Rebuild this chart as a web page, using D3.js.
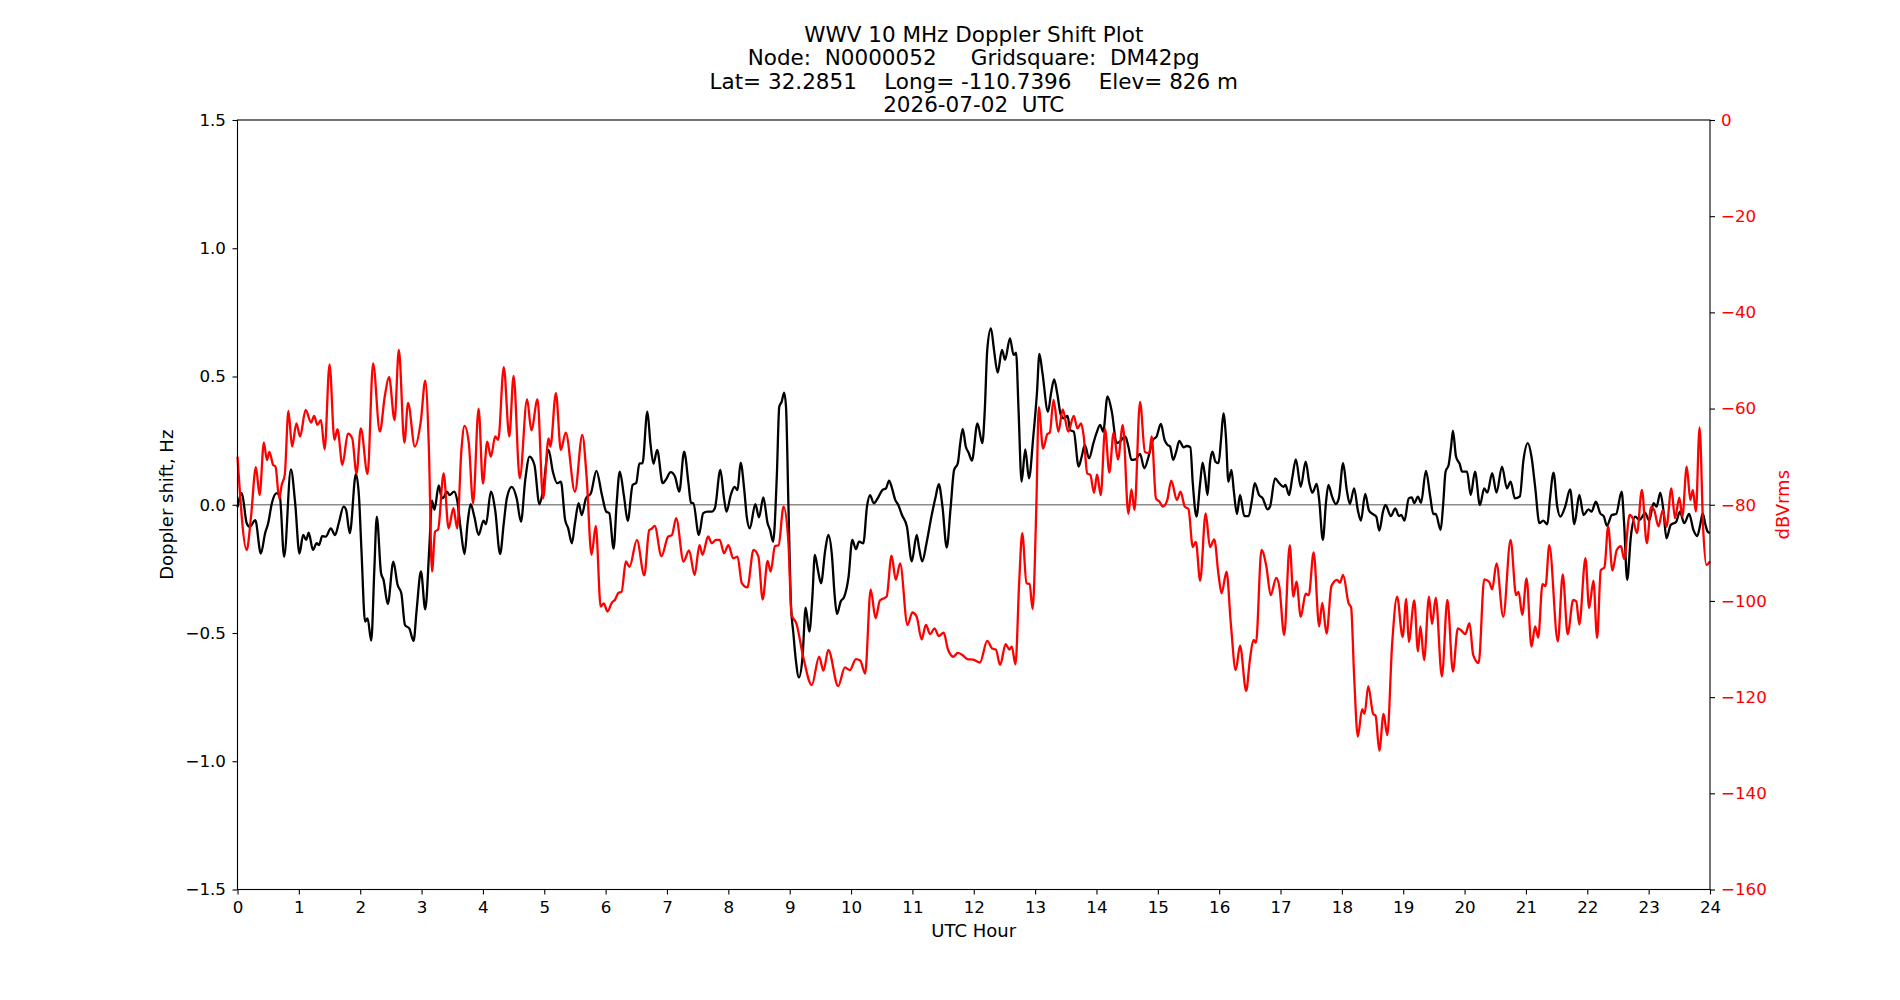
<!DOCTYPE html>
<html>
<head>
<meta charset="utf-8">
<script src="https://cdn.jsdelivr.net/npm/d3@7"></script>
<style>
  body { margin: 0; background: #fff; }
  svg text { font-family: "DejaVu Sans", sans-serif; }
</style>
</head>
<body>
<div id="chart"></div>
<script>
// WWV Doppler shift plot

// Title lines
var titleLines = [
  'WWV 10 MHz Doppler Shift Plot',
  'Node:  N0000052     Gridsquare:  DM42pg',
  'Lat= 32.2851    Long= -110.7396    Elev= 826 m',
  '2026-07-02  UTC'
]

// x ticks (UTC hour)
var hourTicks = d3.range(0, 25)
// left axis ticks (Hz)
var shiftTicks = [-1.5, -1.0, -0.5, 0.0, 0.5, 1.0, 1.5]
// right axis ticks (dBVrms)
var dbTicks = [0, -20, -40, -60, -80, -100, -120, -140, -160]

// Doppler shift series (black)
var dopplerHours = [0.00, 0.07, 0.15, 0.20, 0.29, 0.38, 0.45, 0.50, 0.56, 0.64, 0.69, 0.76, 0.87, 0.94, 1.01, 1.07, 1.12, 1.16, 1.23, 1.29,
  1.33, 1.38, 1.44, 1.52, 1.59, 1.65, 1.73, 1.77, 1.83, 1.93, 1.98, 2.02, 2.08, 2.12, 2.18, 2.23, 2.27, 2.34, 2.38, 2.45,
  2.54, 2.61, 2.67, 2.73, 2.80, 2.87, 2.92, 2.99, 3.06, 3.13, 3.17, 3.21, 3.28, 3.33, 3.37, 3.41, 3.46, 3.53, 3.58, 3.64,
  3.70, 3.75, 3.80, 3.86, 3.93, 4.01, 4.05, 4.13, 4.20, 4.28, 4.34, 4.39, 4.47, 4.55, 4.62, 4.69, 4.76, 4.84, 4.92, 4.98,
  5.07, 5.14, 5.21, 5.27, 5.34, 5.39, 5.45, 5.50, 5.56, 5.61, 5.68, 5.76, 5.85, 5.94, 6.01, 6.06, 6.13, 6.18, 6.23, 6.30,
  6.36, 6.44, 6.50, 6.55, 6.60, 6.68, 6.73, 6.78, 6.84, 6.93, 6.98, 7.06, 7.13, 7.20, 7.28, 7.35, 7.39, 7.43, 7.52, 7.59,
  7.66, 7.73, 7.78, 7.87, 7.93, 7.97, 8.04, 8.10, 8.15, 8.20, 8.26, 8.30, 8.35, 8.44, 8.50, 8.57, 8.64, 8.68, 8.73, 8.79,
  8.83, 8.87, 8.91, 8.94, 8.98, 9.02, 9.06, 9.10, 9.15, 9.21, 9.26, 9.32, 9.37, 9.41, 9.46, 9.51, 9.58, 9.63, 9.69, 9.73,
  9.77, 9.83, 9.89, 9.96, 10.02, 10.08, 10.13, 10.20, 10.26, 10.31, 10.37, 10.45, 10.51, 10.57, 10.62, 10.66, 10.72, 10.77, 10.83, 10.91,
  10.99, 11.07, 11.11, 11.16, 11.23, 11.31, 11.38, 11.43, 11.49, 11.56, 11.62, 11.68, 11.74, 11.78, 11.82, 11.87, 11.92, 11.97, 12.06, 12.14,
  12.18, 12.22, 12.28, 12.33, 12.39, 12.46, 12.51, 12.59, 12.65, 12.69, 12.73, 12.78, 12.84, 12.90, 12.97, 13.03, 13.07, 13.12, 13.21, 13.26,
  13.31, 13.36, 13.42, 13.47, 13.53, 13.57, 13.63, 13.71, 13.76, 13.81, 13.88, 13.95, 14.00, 14.06, 14.11, 14.18, 14.25, 14.33, 14.38, 14.47,
  14.52, 14.57, 14.64, 14.71, 14.78, 14.85, 14.92, 14.98, 15.05, 15.11, 15.16, 15.20, 15.25, 15.30, 15.35, 15.42, 15.47, 15.53, 15.57, 15.63,
  15.69, 15.73, 15.77, 15.81, 15.85, 15.89, 15.94, 15.99, 16.03, 16.07, 16.11, 16.15, 16.20, 16.24, 16.29, 16.34, 16.41, 16.48, 16.53, 16.58,
  16.65, 16.71, 16.79, 16.83, 16.91, 16.98, 17.05, 17.08, 17.14, 17.19, 17.25, 17.33, 17.41, 17.47, 17.52, 17.59, 17.63, 17.69, 17.74, 17.78,
  17.84, 17.90, 17.95, 18.02, 18.08, 18.13, 18.20, 18.26, 18.31, 18.38, 18.44, 18.50, 18.56, 18.61, 18.67, 18.71, 18.80, 18.87, 18.93, 18.97,
  19.02, 19.09, 19.14, 19.18, 19.24, 19.29, 19.37, 19.44, 19.49, 19.53, 19.61, 19.65, 19.69, 19.74, 19.78, 19.81, 19.86, 19.92, 19.96, 20.04,
  20.10, 20.17, 20.25, 20.32, 20.37, 20.45, 20.52, 20.61, 20.69, 20.75, 20.82, 20.90, 20.96, 21.03, 21.09, 21.15, 21.22, 21.28, 21.35, 21.39,
  21.45, 21.51, 21.56, 21.64, 21.72, 21.79, 21.87, 21.94, 22.02, 22.07, 22.14, 22.21, 22.27, 22.32, 22.40, 22.47, 22.56, 22.60, 22.65, 22.71,
  22.78, 22.85, 22.89, 22.94, 23.01, 23.08, 23.13, 23.19, 23.24, 23.29, 23.36, 23.45, 23.51, 23.58, 23.66, 23.73, 23.79, 23.84, 23.88, 23.93,
  23.96, 24.00]
var dopplerShift = [-0.010, 0.045, -0.072, -0.086, -0.060, -0.190, -0.111, -0.072, 0.006, 0.045, 0.032, -0.203, 0.138, 0.006, -0.190, -0.118, -0.137, -0.109, -0.176, -0.150,
  -0.157, -0.122, -0.124, -0.092, -0.118, -0.072, -0.007, -0.020, -0.111, 0.120, 0.032, -0.176, -0.456, -0.443, -0.530, -0.254, -0.046, -0.267, -0.293, -0.387,
  -0.222, -0.313, -0.345, -0.469, -0.482, -0.531, -0.410, -0.260, -0.408, -0.150, 0.016, -0.020, 0.075, 0.025, 0.032, 0.051, 0.038, 0.051, 0.018, -0.099,
  -0.192, -0.072, 0.002, -0.046, -0.118, -0.062, -0.076, 0.051, -0.021, -0.192, -0.072, 0.025, 0.070, 0.025, -0.066, 0.097, 0.188, 0.155, 0.002, 0.057,
  0.214, 0.129, 0.084, 0.090, -0.059, -0.092, -0.150, -0.072, 0.006, -0.040, 0.025, 0.045, 0.132, 0.038, -0.027, -0.033, -0.171, 0.006, 0.129, 0.032,
  -0.063, 0.077, 0.086, 0.161, 0.161, 0.363, 0.240, 0.160, 0.214, 0.084, 0.097, 0.127, 0.110, 0.051, 0.207, 0.084, 0.008, 0.006, -0.118, -0.033,
  -0.027, -0.027, -0.014, 0.136, 0.025, -0.027, 0.038, 0.070, 0.057, 0.164, 0.057, -0.046, -0.092, 0.002, -0.049, 0.029, -0.072, -0.098, -0.144, 0.110,
  0.382, 0.402, 0.437, 0.382, -0.007, -0.384, -0.501, -0.605, -0.673, -0.592, -0.401, -0.495, -0.358, -0.196, -0.254, -0.306, -0.176, -0.118, -0.202, -0.345,
  -0.426, -0.378, -0.358, -0.280, -0.137, -0.173, -0.144, -0.150, -0.007, 0.037, 0.006, 0.032, 0.057, 0.064, 0.094, 0.071, 0.019, -0.001, -0.040, -0.085,
  -0.221, -0.118, -0.170, -0.221, -0.150, -0.046, 0.032, 0.080, -0.007, -0.167, -0.020, 0.136, 0.162, 0.240, 0.296, 0.227, 0.201, 0.172, 0.317, 0.240,
  0.370, 0.604, 0.688, 0.604, 0.515, 0.604, 0.565, 0.649, 0.584, 0.593, 0.370, 0.090, 0.216, 0.103, 0.265, 0.435, 0.588, 0.513, 0.363, 0.435,
  0.489, 0.435, 0.350, 0.337, 0.346, 0.291, 0.285, 0.149, 0.188, 0.233, 0.181, 0.240, 0.279, 0.311, 0.285, 0.422, 0.363, 0.240, 0.246, 0.266,
  0.227, 0.175, 0.177, 0.198, 0.142, 0.188, 0.253, 0.266, 0.315, 0.253, 0.233, 0.227, 0.175, 0.207, 0.249, 0.224, 0.229, 0.224, 0.084, -0.046,
  0.084, 0.164, 0.110, 0.038, 0.162, 0.207, 0.168, 0.162, 0.253, 0.356, 0.266, 0.090, 0.136, 0.051, -0.036, 0.038, -0.044, -0.044, 0.012, 0.084,
  0.038, 0.025, -0.018, -0.007, 0.103, 0.084, 0.070, 0.077, 0.038, 0.103, 0.177, 0.070, 0.168, 0.084, 0.047, 0.081, 0.019, -0.137, 0.006, 0.077,
  0.032, 0.003, 0.025, 0.162, 0.057, 0.003, 0.064, -0.021, -0.062, 0.042, -0.021, -0.036, -0.046, -0.101, -0.027, -0.001, -0.044, -0.014, -0.044, -0.040,
  -0.062, 0.025, 0.029, 0.006, 0.032, 0.008, 0.132, 0.032, -0.036, -0.036, -0.098, -0.001, 0.129, 0.155, 0.227, 0.289, 0.188, 0.159, 0.129, 0.129,
  0.038, 0.129, -0.001, 0.064, 0.047, 0.123, 0.047, 0.149, 0.064, 0.090, 0.025, 0.032, 0.175, 0.240, 0.188, 0.070, -0.072, -0.062, -0.076, 0.019,
  0.125, -0.007, -0.046, -0.007, 0.060, -0.076, 0.038, -0.040, -0.018, -0.027, 0.012, -0.033, -0.046, -0.082, -0.040, -0.036, 0.051, -0.072, -0.293, -0.124,
  -0.046, -0.059, -0.049, -0.031, -0.062, 0.006, -0.007, 0.047, -0.020, -0.131, -0.079, -0.066, -0.027, -0.072, -0.036, -0.098, -0.122, -0.079, -0.033, -0.082,
  -0.104, -0.110]

// Signal level series (red, dBVrms)
var powerHours = [0.00, 0.15, 0.22, 0.30, 0.36, 0.43, 0.48, 0.52, 0.58, 0.62, 0.68, 0.72, 0.77, 0.83, 0.89, 0.96, 1.02, 1.11, 1.20, 1.25,
  1.30, 1.36, 1.42, 1.50, 1.58, 1.63, 1.71, 1.80, 1.87, 1.94, 2.01, 2.12, 2.21, 2.32, 2.40, 2.47, 2.56, 2.63, 2.72, 2.78,
  2.89, 2.99, 3.06, 3.12, 3.17, 3.22, 3.27, 3.36, 3.44, 3.52, 3.58, 3.65, 3.70, 3.77, 3.84, 3.93, 4.00, 4.07, 4.13, 4.20,
  4.25, 4.34, 4.43, 4.50, 4.60, 4.72, 4.79, 4.89, 4.98, 5.07, 5.10, 5.19, 5.27, 5.35, 5.50, 5.62, 5.69, 5.77, 5.84, 5.92,
  5.97, 6.03, 6.10, 6.15, 6.21, 6.26, 6.33, 6.39, 6.51, 6.63, 6.71, 6.75, 6.80, 6.91, 7.02, 7.08, 7.15, 7.27, 7.36, 7.45,
  7.53, 7.58, 7.67, 7.73, 7.80, 7.86, 7.93, 8.00, 8.08, 8.15, 8.22, 8.31, 8.41, 8.49, 8.56, 8.64, 8.69, 8.76, 8.82, 8.90,
  8.98, 9.03, 9.11, 9.22, 9.36, 9.48, 9.55, 9.63, 9.79, 9.90, 9.98, 10.08, 10.15, 10.23, 10.32, 10.40, 10.47, 10.58, 10.66, 10.73,
  10.80, 10.92, 11.00, 11.07, 11.15, 11.22, 11.29, 11.36, 11.43, 11.51, 11.58, 11.67, 11.74, 11.81, 11.90, 11.99, 12.10, 12.22, 12.30, 12.36,
  12.43, 12.52, 12.58, 12.62, 12.68, 12.74, 12.79, 12.86, 12.91, 12.96, 13.02, 13.06, 13.13, 13.20, 13.24, 13.30, 13.38, 13.45, 13.54, 13.63,
  13.69, 13.75, 13.79, 13.85, 13.90, 13.96, 14.01, 14.07, 14.14, 14.21, 14.28, 14.35, 14.43, 14.52, 14.57, 14.62, 14.71, 14.79, 14.86, 14.90,
  14.97, 15.03, 15.08, 15.15, 15.22, 15.31, 15.37, 15.44, 15.50, 15.57, 15.62, 15.69, 15.78, 15.85, 15.92, 15.99, 16.04, 16.12, 16.19, 16.27,
  16.34, 16.44, 16.50, 16.56, 16.60, 16.69, 16.77, 16.84, 16.93, 16.98, 17.06, 17.15, 17.21, 17.26, 17.33, 17.41, 17.46, 17.54, 17.63, 17.68,
  17.75, 17.83, 17.92, 17.97, 18.02, 18.11, 18.15, 18.20, 18.26, 18.33, 18.37, 18.43, 18.51, 18.55, 18.61, 18.68, 18.74, 18.82, 18.90, 18.99,
  19.05, 19.09, 19.18, 19.24, 19.28, 19.34, 19.42, 19.47, 19.53, 19.63, 19.72, 19.81, 19.89, 19.95, 20.01, 20.08, 20.14, 20.23, 20.32, 20.40,
  20.45, 20.52, 20.63, 20.75, 20.84, 20.88, 20.94, 21.01, 21.09, 21.15, 21.20, 21.27, 21.32, 21.38, 21.52, 21.60, 21.68, 21.77, 21.82, 21.87,
  21.97, 22.03, 22.10, 22.16, 22.22, 22.28, 22.34, 22.41, 22.48, 22.55, 22.60, 22.69, 22.74, 22.81, 22.89, 22.97, 23.04, 23.09, 23.16, 23.23,
  23.29, 23.37, 23.43, 23.50, 23.55, 23.62, 23.68, 23.72, 23.77, 23.83, 23.89, 23.94, 24.00]
var powerDb = [-70.0, -89.4, -82.5, -72.2, -78.0, -67.1, -70.7, -69.0, -71.7, -72.1, -78.7, -75.9, -73.8, -60.5, -67.9, -63.1, -65.8, -60.3, -62.9, -61.5,
  -63.4, -62.4, -68.5, -50.8, -66.5, -64.3, -71.7, -65.2, -66.2, -73.5, -64.1, -73.6, -50.6, -64.8, -57.5, -53.4, -62.4, -47.8, -67.1, -58.8,
  -67.9, -62.4, -54.2, -68.6, -93.9, -85.6, -85.1, -73.5, -84.9, -80.7, -84.9, -68.6, -63.6, -67.2, -79.7, -60.0, -75.6, -66.9, -70.0, -65.8,
  -66.5, -51.4, -65.8, -53.2, -74.5, -58.1, -64.5, -58.1, -78.7, -66.2, -67.9, -56.8, -68.6, -65.0, -77.3, -65.5, -74.2, -90.4, -84.4, -101.2,
  -100.5, -102.2, -100.4, -99.8, -98.3, -98.1, -91.8, -92.9, -87.3, -94.7, -85.3, -85.0, -84.4, -90.7, -86.6, -86.3, -82.8, -91.8, -89.5, -94.6,
  -88.4, -90.4, -86.6, -88.0, -87.3, -87.3, -90.1, -88.4, -91.1, -90.8, -96.3, -97.2, -89.4, -90.8, -99.7, -91.7, -93.9, -88.6, -88.4, -80.4,
  -88.0, -102.9, -104.7, -111.6, -117.5, -111.6, -114.5, -110.2, -117.7, -113.8, -114.4, -112.1, -112.4, -115.1, -97.6, -103.6, -99.9, -99.1, -90.6, -95.6,
  -92.2, -105.0, -102.4, -103.3, -108.0, -105.0, -106.9, -105.7, -107.3, -106.6, -110.1, -111.6, -110.8, -111.2, -112.1, -112.2, -112.8, -108.3, -109.9, -110.1,
  -113.3, -109.0, -110.1, -109.5, -113.2, -96.3, -85.9, -96.3, -96.5, -101.7, -80.4, -59.7, -68.3, -65.3, -65.0, -58.2, -64.8, -60.2, -64.8, -61.5,
  -64.1, -63.1, -65.5, -73.5, -73.8, -77.5, -73.7, -78.0, -64.3, -73.3, -65.0, -70.6, -63.4, -81.9, -76.8, -81.1, -58.6, -69.0, -69.3, -65.8,
  -78.7, -79.4, -80.4, -79.2, -75.0, -79.0, -77.3, -80.4, -80.9, -88.8, -87.7, -95.8, -81.8, -88.8, -87.2, -94.6, -98.4, -93.9, -104.7, -114.4,
  -109.3, -118.7, -112.3, -108.1, -108.7, -89.4, -92.9, -98.8, -95.2, -97.0, -107.1, -88.4, -99.1, -96.0, -103.3, -98.5, -98.8, -89.9, -105.3, -100.4,
  -106.8, -96.9, -95.6, -96.2, -94.6, -100.5, -101.3, -115.7, -128.2, -122.5, -123.5, -117.7, -123.5, -123.9, -131.1, -123.5, -127.9, -108.8, -99.1, -107.5,
  -99.6, -108.5, -99.9, -110.5, -105.3, -112.3, -99.1, -104.8, -99.3, -115.7, -99.8, -114.7, -105.7, -106.2, -106.9, -104.6, -111.2, -112.9, -95.5, -96.0,
  -97.6, -92.2, -103.3, -87.3, -98.8, -98.1, -102.9, -95.3, -109.5, -105.3, -107.6, -96.5, -96.9, -88.4, -108.4, -94.5, -106.9, -99.8, -100.1, -104.9,
  -91.1, -101.5, -95.8, -107.7, -93.6, -93.0, -84.5, -93.7, -89.4, -88.6, -91.3, -82.1, -82.8, -85.9, -76.9, -88.0, -80.5, -81.1, -84.5, -81.1,
  -84.6, -76.6, -82.8, -78.5, -82.5, -72.1, -79.0, -76.9, -81.4, -63.9, -85.3, -92.5, -91.8]

var width = 1900
var height = 1000
var plot = { left: 237.5, right: 1710, top: 120, bottom: 889.5 }

var svg = d3.select('#chart')
  .append('svg')
  .attr('width', width)
  .attr('height', height)
  .style('background', '#fff')

// Scales
var xScale = d3.scaleLinear().domain([0, 24]).range([plot.left, plot.right])
var yScale = d3.scaleLinear().domain([-1.5, 1.5]).range([plot.bottom, plot.top])
var dbScale = d3.scaleLinear().domain([-160, 0]).range([plot.bottom, plot.top])

// Title
svg.append('text')
  .attr('x', (plot.left + plot.right) / 2)
  .attr('text-anchor', 'middle')
  .attr('font-size', 21.5)
  .attr('fill', '#000')
  .style('white-space', 'pre')
  .selectAll('tspan')
  .data(titleLines)
  .enter()
  .append('tspan')
  .attr('x', (plot.left + plot.right) / 2)
  .attr('y', (d, i) => 42 + i * 23.3)
  .text(d => d)

// zero line
svg.append('line')
  .attr('x1', plot.left)
  .attr('x2', plot.right)
  .attr('y1', yScale(0))
  .attr('y2', yScale(0))
  .attr('stroke', '#8c8c8c')
  .attr('stroke-width', 1.5)

// Lines
var dopplerLine = d3.line()
  .x((d, i) => xScale(dopplerHours[i]))
  .y(d => yScale(d))
  .curve(d3.curveMonotoneX)

var powerLine = d3.line()
  .x((d, i) => xScale(powerHours[i]))
  .y(d => dbScale(d))
  .curve(d3.curveMonotoneX)

svg.append('path')
  .datum(dopplerShift)
  .attr('d', dopplerLine)
  .attr('fill', 'none')
  .attr('stroke', '#000')
  .attr('stroke-width', 2.3)
  .attr('stroke-linejoin', 'round')

svg.append('path')
  .datum(powerDb)
  .attr('d', powerLine)
  .attr('fill', 'none')
  .attr('stroke', '#ff0000')
  .attr('stroke-width', 2.3)
  .attr('stroke-linejoin', 'round')

// Frame
svg.append('rect')
  .attr('x', plot.left)
  .attr('y', plot.top)
  .attr('width', plot.right - plot.left)
  .attr('height', plot.bottom - plot.top)
  .attr('fill', 'none')
  .attr('stroke', '#000')
  .attr('stroke-width', 1.1)

// Axes
var xAxis = d3.axisBottom(xScale).tickValues(hourTicks).tickSize(5).tickPadding(7).tickFormat(d3.format('d'))
var yAxis = d3.axisLeft(yScale).tickValues(shiftTicks).tickSize(5).tickPadding(6.5).tickFormat(d3.format('.1f'))
var dbAxis = d3.axisRight(dbScale).tickValues(dbTicks).tickSize(5).tickPadding(6).tickFormat(d3.format('d'))

function styleAxis(g, color) {
  g.select('.domain').remove()
  g.selectAll('.tick line').attr('stroke', '#000').attr('stroke-width', 1.1)
  g.selectAll('.tick text')
    .attr('fill', color)
    .attr('font-size', 16.7)
    .attr('font-family', '"DejaVu Sans", sans-serif')
}

svg.append('g')
  .attr('transform', `translate(0, ${plot.bottom})`)
  .call(xAxis)
  .call(g => styleAxis(g, '#000'))

svg.append('g')
  .attr('transform', `translate(${plot.left}, 0)`)
  .call(yAxis)
  .call(g => styleAxis(g, '#000'))

svg.append('g')
  .attr('transform', `translate(${plot.right}, 0)`)
  .call(dbAxis)
  .call(g => styleAxis(g, '#ff0000'))

// Axis labels
svg.append('text')
  .attr('x', (plot.left + plot.right) / 2)
  .attr('y', 937)
  .attr('text-anchor', 'middle')
  .attr('font-size', 18)
  .text('UTC Hour')

svg.append('text')
  .attr('transform', `translate(173, ${(plot.top + plot.bottom) / 2}) rotate(-90)`)
  .attr('text-anchor', 'middle')
  .attr('font-size', 18)
  .text('Doppler shift, Hz')

svg.append('text')
  .attr('transform', `translate(1789, ${(plot.top + plot.bottom) / 2}) rotate(-90)`)
  .attr('text-anchor', 'middle')
  .attr('font-size', 18)
  .attr('fill', '#ff0000')
  .text('dBVrms')
</script>
</body>
</html>
